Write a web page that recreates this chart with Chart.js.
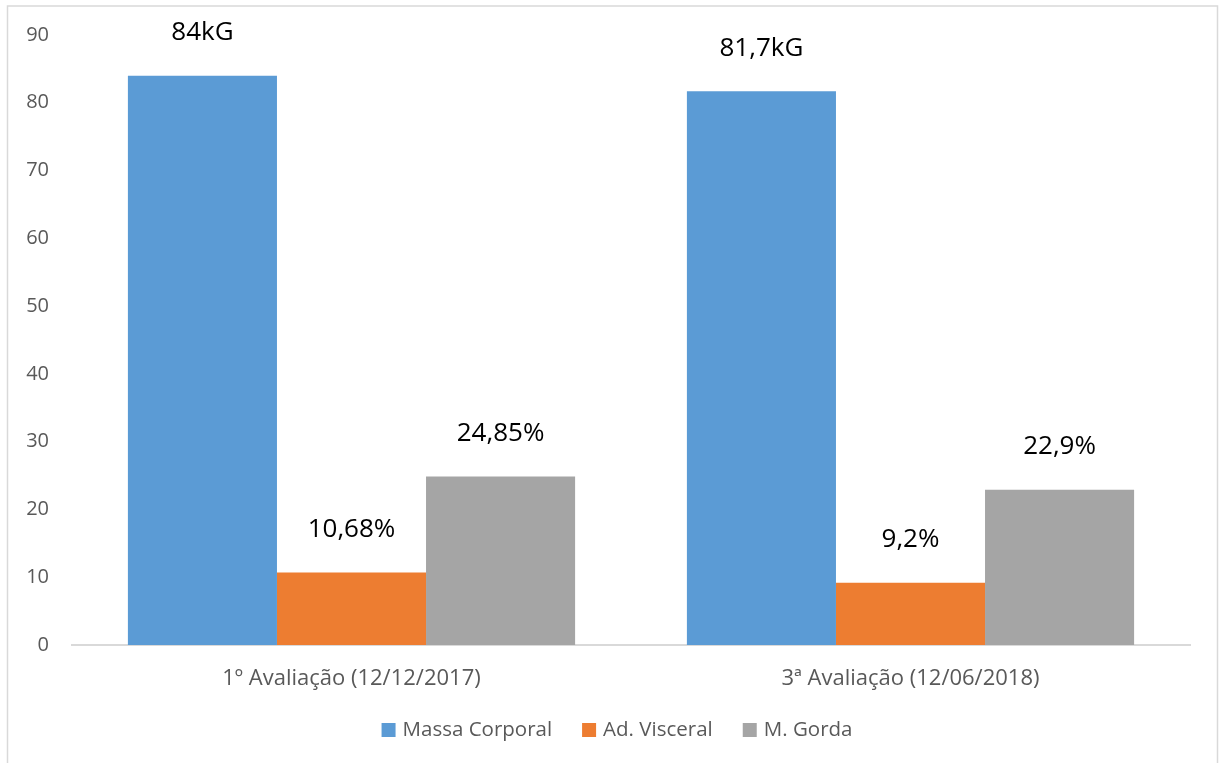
<!DOCTYPE html>
<html>
<head>
<meta charset="utf-8">
<script src="https://cdn.jsdelivr.net/npm/chart.js@4/dist/chart.umd.min.js"></script>
<style>
  html, body { margin: 0; padding: 0; background: #fff; }
  #wrap { width: 1219px; height: 763px; position: relative; }
</style>
</head>
<body>
<div id="wrap"><canvas id="myChart" width="1219" height="763"></canvas></div>
<script>
// Avaliações
var categorias = ['1º Avaliação (12/12/2017)', '3ª Avaliação (12/06/2018)'];
var series = ['Massa Corporal', 'Ad. Visceral', 'M. Gorda'];
var massaCorporal = [84, 81.7];
var adVisceral = [10.68, 9.2];
var mGorda = [24.85, 22.9];
var unidades = ['kG', '%', '%'];
var cores = ['#5b9bd5', '#ed7d31', '#a5a5a5'];
var yTicks = [0, 10, 20, 30, 40, 50, 60, 70, 80, 90];

var fonte = "'Open Sans', sans-serif";

// rótulos por cima das barras (valor + unidade, com vírgula)
var rotulos = {
    id: 'rotulos',
    afterDatasetsDraw: function (chart) {
        var ctx = chart.ctx;
        ctx.save();
        ctx.font = '26px ' + fonte;
        ctx.fillStyle = '#000';
        ctx.textAlign = 'center';
        ctx.textBaseline = 'middle';
        chart.data.datasets.forEach(function (ds, i) {
            chart.getDatasetMeta(i).data.forEach(function (bar, j) {
                var txt = String(ds.data[j]).replace('.', ',') + unidades[i];
                ctx.fillText(txt, bar.x, bar.y - 43);
            });
        });
        ctx.restore();
    }
};

// legenda desenhada à mão por baixo do eixo x
var legenda = {
    id: 'legenda',
    afterDraw: function (chart) {
        var ctx = chart.ctx;
        var area = chart.chartArea;
        var box = 14, gapTexto = 7, gapItem = 30;
        ctx.save();
        ctx.font = '20.5px ' + fonte;
        ctx.textBaseline = 'middle';
        ctx.textAlign = 'left';
        var itens = chart.data.datasets.map(function (ds) {
            return { txt: ds.label, cor: ds.backgroundColor, w: ctx.measureText(ds.label).width };
        });
        var total = itens.reduce(function (s, it) { return s + box + gapTexto + it.w; }, 0) + gapItem * (itens.length - 1);
        var x = (area.left + area.right) / 2 - 14 - total / 2;
        var y = area.bottom + 85;
        itens.forEach(function (it) {
            ctx.fillStyle = it.cor;
            ctx.fillRect(x, y - box / 2, box, box);
            ctx.fillStyle = '#595959';
            ctx.fillText(it.txt, x + box + gapTexto, y);
            x += box + gapTexto + it.w + gapItem;
        });
        ctx.restore();
    }
};

// moldura da área do gráfico
var moldura = {
    id: 'moldura',
    beforeDraw: function (chart) {
        var ctx = chart.ctx;
        ctx.save();
        ctx.strokeStyle = '#d9d9d9';
        ctx.lineWidth = 1.5;
        ctx.strokeRect(7.5, 6, 1210, 800);
        ctx.restore();
    }
};

var ctx = document.getElementById('myChart').getContext('2d');
var myChart = new Chart(ctx, {
    type: 'bar',
    data: {
        labels: categorias,
        datasets: [
            { label: series[0], data: massaCorporal, backgroundColor: cores[0] },
            { label: series[1], data: adVisceral, backgroundColor: cores[1] },
            { label: series[2], data: mGorda, backgroundColor: cores[2] }
        ]
    },
    options: {
        responsive: false,
        animation: false,
        datasets: {
            bar: { categoryPercentage: 0.8, barPercentage: 1.0 }
        },
        layout: {
            padding: { left: 0, top: 35, right: 29, bottom: 68 }
        },
        plugins: {
            tooltip: { enabled: false },
            legend: { display: false }
        },
        scales: {
            x: {
                grid: { display: false, drawTicks: false, tickLength: 0 },
                border: { display: true, color: '#d9d9d9', width: 2 },
                ticks: {
                    font: { family: fonte, size: 22 },
                    color: '#595959',
                    padding: 21
                },
                afterFit: function (scale) { scale.height = 50; }
            },
            y: {
                min: 0,
                max: 90,
                grid: { display: false, drawTicks: false, tickLength: 0 },
                border: { display: false },
                afterBuildTicks: function (scale) {
                    scale.ticks = yTicks.map(function (v) { return { value: v }; });
                },
                ticks: {
                    font: { family: fonte, size: 20 },
                    color: '#595959',
                    padding: 23
                },
                afterFit: function (scale) { scale.width = 72; }
            }
        }
    },
    plugins: [moldura, rotulos, legenda]
});
</script>
</body>
</html>
